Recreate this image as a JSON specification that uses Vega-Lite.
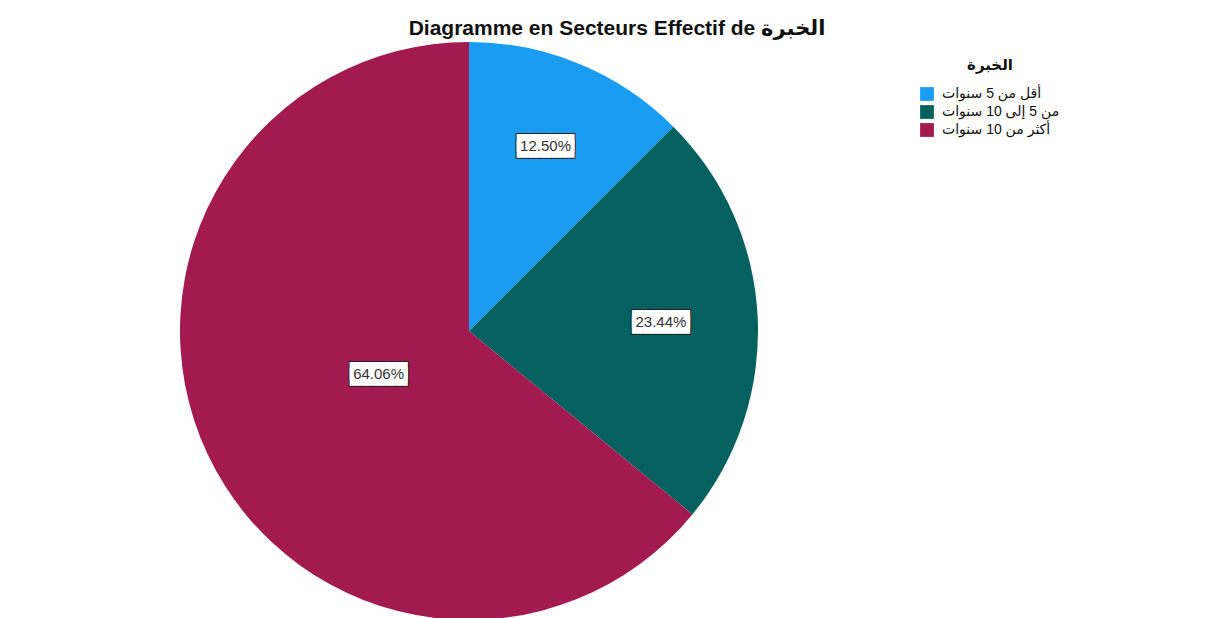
{
  "$schema": "https://vega.github.io/schema/vega-lite/v6.json",
  "autosize": {"type": "none"},
  "width": 800,
  "height": 574,
  "padding": {"left": 69, "top": 44, "right": 344, "bottom": 0},
  "background": "white",
  "config": {"view": {"stroke": null}, "font": "Liberation Sans, DejaVu Sans"},
  "title": {
    "text": "Diagramme en Secteurs Effectif de الخبرة",
    "font": "Liberation Sans, DejaVu Sans",
    "fontSize": 21,
    "fontWeight": "bold",
    "color": "#111",
    "anchor": "middle",
    "dx": 148,
    "offset": 3
  },
  "data": {
    "values": [
      {"category": "أقل من 5 سنوات", "ord": 1, "pct": 0.125},
      {"category": "من 5 إلى 10 سنوات", "ord": 2, "pct": 0.2344},
      {"category": "أكثر من 10 سنوات", "ord": 3, "pct": 0.6406}
    ]
  },
  "encoding": {
    "theta": {"field": "pct", "type": "quantitative", "stack": true},
    "order": {"field": "ord", "type": "quantitative"}
  },
  "layer": [
    {
      "mark": {"type": "arc", "outerRadius": 289},
      "encoding": {
        "color": {
          "field": "category",
          "type": "nominal",
          "sort": ["أقل من 5 سنوات", "من 5 إلى 10 سنوات", "أكثر من 10 سنوات"],
          "scale": {
            "domain": ["أقل من 5 سنوات", "من 5 إلى 10 سنوات", "أكثر من 10 سنوات"],
            "range": ["#1a9cf2", "#056160", "#a31a51"]
          },
          "legend": {
            "title": "الخبرة",
            "orient": "none",
            "legendX": 851,
            "legendY": 14,
            "titleFont": "DejaVu Sans",
            "titleFontSize": 15,
            "titleFontWeight": "bold",
            "titleColor": "#111",
            "titleAnchor": "middle",
            "titlePadding": 14,
            "labelFont": "Liberation Sans, DejaVu Sans",
            "labelFontSize": 14,
            "labelColor": "#111",
            "symbolType": "square",
            "symbolSize": 190,
            "symbolStrokeWidth": 0,
            "rowPadding": 4,
            "labelOffset": 8
          }
        }
      }
    },
    {
      "mark": {"type": "text", "text": "█████", "font": "DejaVu Sans", "fontSize": 15, "fill": "white", "stroke": "#222", "strokeWidth": 2, "align": "center", "baseline": "middle", "dy": -3},
      "encoding": {"radius": {"field": "pct", "type": "quantitative", "scale": {"domain": [0.2, 0.64], "range": [200, 100], "clamp": true, "zero": false}}}
    },
    {
      "mark": {"type": "text", "text": "█████", "font": "DejaVu Sans", "fontSize": 15, "fill": "white", "stroke": "#222", "strokeWidth": 2, "align": "center", "baseline": "middle", "dy": 3},
      "encoding": {"radius": {"field": "pct", "type": "quantitative"}}
    },
    {
      "mark": {"type": "text", "text": "█████", "font": "DejaVu Sans", "fontSize": 15, "fill": "white", "align": "center", "baseline": "middle", "dy": -3},
      "encoding": {"radius": {"field": "pct", "type": "quantitative"}}
    },
    {
      "mark": {"type": "text", "text": "█████", "font": "DejaVu Sans", "fontSize": 15, "fill": "white", "align": "center", "baseline": "middle", "dy": 3},
      "encoding": {"radius": {"field": "pct", "type": "quantitative"}}
    },
    {
      "mark": {"type": "text", "font": "Liberation Sans", "fontSize": 15, "fill": "#333", "align": "center", "baseline": "middle"},
      "encoding": {
        "radius": {"field": "pct", "type": "quantitative"},
        "text": {"field": "pct", "type": "quantitative", "format": ".2%"}
      }
    }
  ]
}
